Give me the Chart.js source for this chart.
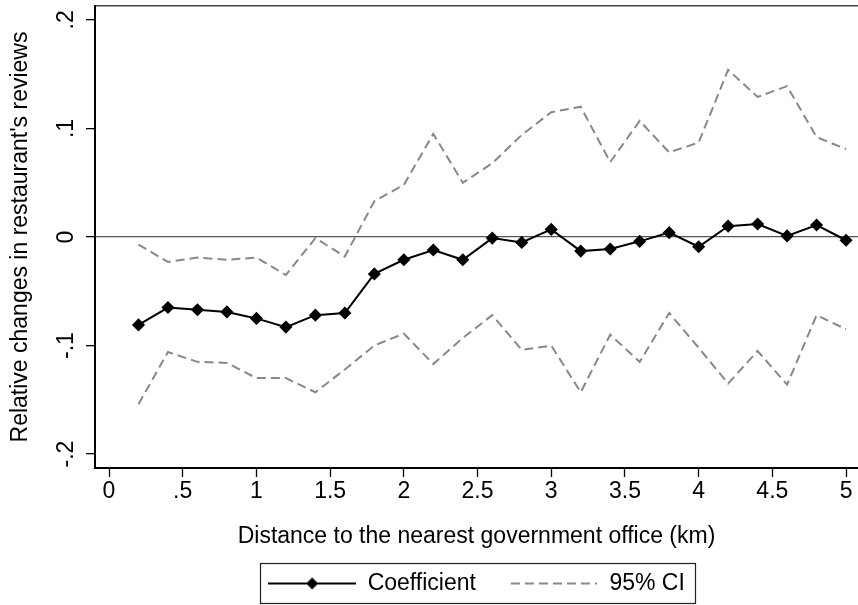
<!DOCTYPE html>
<html>
<head>
<meta charset="utf-8">
<script src="https://cdn.jsdelivr.net/npm/chart.js@4/dist/chart.umd.min.js"></script>
<style>
  html, body { margin: 0; padding: 0; background: #fff; overflow: hidden; }
  canvas { display: block; }
</style>
</head>
<body>
<canvas id="coefChart" width="858" height="605"></canvas>
<script>
// distance bins (km)
const distances = [0.2, 0.4, 0.6, 0.8, 1.0, 1.2, 1.4, 1.6, 1.8, 2.0, 2.2, 2.4, 2.6,
                   2.8, 3.0, 3.2, 3.4, 3.6, 3.8, 4.0, 4.2, 4.4, 4.6, 4.8, 5.0];
const coefficient = [-0.081, -0.065, -0.067, -0.069, -0.075, -0.083, -0.072, -0.070, -0.034,
                     -0.021, -0.012, -0.021, -0.001, -0.005, 0.007, -0.013, -0.011, -0.004,
                     0.004, -0.009, 0.010, 0.012, 0.001, 0.011, -0.003];
const ciUpper = [-0.007, -0.023, -0.019, -0.021, -0.019, -0.035, -0.001, -0.018, 0.033,
                 0.048, 0.095, 0.050, 0.068, 0.094, 0.115, 0.120, 0.069, 0.107,
                 0.078, 0.087, 0.154, 0.129, 0.139, 0.092, 0.081];
const ciLower = [-0.154, -0.106, -0.115, -0.116, -0.130, -0.130, -0.143, -0.122, -0.100,
                 -0.089, -0.117, -0.093, -0.072, -0.104, -0.100, -0.143, -0.090, -0.115,
                 -0.070, -0.102, -0.135, -0.105, -0.136, -0.072, -0.085];

const xTicks = [0, 0.5, 1, 1.5, 2, 2.5, 3, 3.5, 4, 4.5, 5];
const xTickLabels = ['0', '.5', '1', '1.5', '2', '2.5', '3', '3.5', '4', '4.5', '5'];
const yTicks = [-0.2, -0.1, 0, 0.1, 0.2];
const yTickLabels = ['-.2', '-.1', '0', '.1', '.2'];

const CI_GREY = '#888888';
const FONT = '"Liberation Sans", Arial, Helvetica, sans-serif';

Chart.defaults.font.family = FONT;
Chart.defaults.font.size = 23;
Chart.defaults.color = '#000';

const toPoints = ys => distances.map((x, i) => ({ x: x, y: ys[i] }));

// legend samples: line with a diamond, and a dashed grey line
function legendSample(kind) {
  const c = document.createElement('canvas');
  c.width = 88; c.height = 16;
  const g = c.getContext('2d');
  g.lineWidth = 2;
  if (kind === 'coef') {
    g.strokeStyle = '#000';
    g.beginPath(); g.moveTo(0, 8); g.lineTo(88, 8); g.stroke();
    g.fillStyle = '#000';
    g.beginPath();
    g.moveTo(44, 2); g.lineTo(50, 8); g.lineTo(44, 14); g.lineTo(38, 8);
    g.closePath(); g.fill();
  } else {
    g.strokeStyle = CI_GREY;
    g.setLineDash([9, 5]);
    g.beginPath(); g.moveTo(1, 8); g.lineTo(87, 8); g.stroke();
  }
  return c;
}
const coefSample = legendSample('coef');
const ciSample = legendSample('ci');

const legendFrame = {
  id: 'legendFrame',
  afterDraw(chart) {
    const lg = chart.legend;
    if (!lg || !lg.legendHitBoxes || lg.legendHitBoxes.length < 2) return;
    const hb = lg.legendHitBoxes;
    const mid = hb[0].top + hb[0].height / 2;
    const left = Math.round(hb[0].left - 8) + 0.5;
    const right = Math.round(hb[1].left + hb[1].width + 10) + 0.5;
    const top = Math.round(mid - 21) + 0.5;
    const bottom = Math.min(Math.round(mid + 20), 603) + 0.5;
    const ctx = chart.ctx;
    ctx.save();
    ctx.strokeStyle = '#222';
    ctx.lineWidth = 1.2;
    ctx.strokeRect(left, top, right - left, bottom - top);
    ctx.restore();
  }
};

new Chart(document.getElementById('coefChart'), {
  type: 'line',
  data: {
    datasets: [{
      label: 'Coefficient',
      data: toPoints(coefficient),
      borderColor: '#000',
      backgroundColor: '#000',
      borderWidth: 2,
      pointStyle: 'rectRot',
      pointRadius: 5.5,
      pointBorderWidth: 1.5,
      tension: 0
    }, {
      label: '95% CI',
      data: toPoints(ciUpper),
      borderColor: CI_GREY,
      borderWidth: 2,
      borderDash: [9, 5],
      pointRadius: 0,
      tension: 0
    }, {
      label: '95% CI lower',
      data: toPoints(ciLower),
      borderColor: CI_GREY,
      borderWidth: 2,
      borderDash: [9, 5],
      pointRadius: 0,
      tension: 0
    }]
  },
  options: {
    responsive: false,
    animation: false,
    layout: { autoPadding: false, padding: { top: 6, left: 0, right: 0, bottom: 0 } },
    scales: {
      x: {
        type: 'linear',
        position: 'bottom',
        min: -0.095,
        max: 5.081,
        afterBuildTicks: s => { s.ticks = xTicks.map(v => ({ value: v })); },
        afterFit: s => { s.height = 70; s.paddingLeft = 0; s.paddingRight = 0; },
        ticks: {
          callback: (v, i) => xTickLabels[i],
          padding: 1,
          maxRotation: 0,
          autoSkip: false
        },
        grid: { drawOnChartArea: false, tickLength: 9, tickColor: '#000', tickWidth: 1.3 },
        border: { color: '#000', width: 2 },
        title: {
          display: true,
          text: 'Distance to the nearest government office (km)',
          padding: { top: 0, bottom: -12.5 }
        }
      },
      x2: {
        type: 'linear',
        position: 'top',
        min: -0.095,
        max: 5.081,
        afterFit: s => { s.height = 0; s.paddingLeft = 0; s.paddingRight = 0; },
        ticks: { display: false },
        grid: { drawOnChartArea: false, drawTicks: false },
        border: { color: '#444', width: 1.5 }
      },
      y: {
        type: 'linear',
        min: -0.2128,
        max: 0.2128,
        afterBuildTicks: s => { s.ticks = yTicks.map(v => ({ value: v })); },
        afterFit: s => { s.width = 95; s.paddingTop = 0; s.paddingBottom = 0; },
        ticks: {
          callback: (v, i) => yTickLabels[i],
          minRotation: 90,
          maxRotation: 90,
          crossAlign: 'center',
          padding: 6
        },
        grid: {
          color: c => (c.tick && c.tick.value === 0) ? '#555' : 'rgba(0,0,0,0)',
          lineWidth: 1.3,
          tickLength: 9,
          tickColor: '#000',
          tickWidth: 1.3
        },
        border: { color: '#000', width: 2 },
        title: {
          display: true,
          text: "Relative changes in restaurant's reviews",
          padding: { top: 7, bottom: 0 }
        }
      }
    },
    plugins: {
      tooltip: { enabled: false },
      legend: {
        position: 'bottom',
        fullSize: false,
        labels: {
          usePointStyle: true,
          pointStyleWidth: 88,
          padding: 34,
          color: '#000',
          generateLabels: () => [
            { text: 'Coefficient', pointStyle: coefSample, datasetIndex: 0, hidden: false, lineWidth: 0 },
            { text: '95% CI', pointStyle: ciSample, datasetIndex: 1, hidden: false, lineWidth: 0 }
          ]
        }
      }
    }
  },
  plugins: [legendFrame]
});
</script>
</body>
</html>
